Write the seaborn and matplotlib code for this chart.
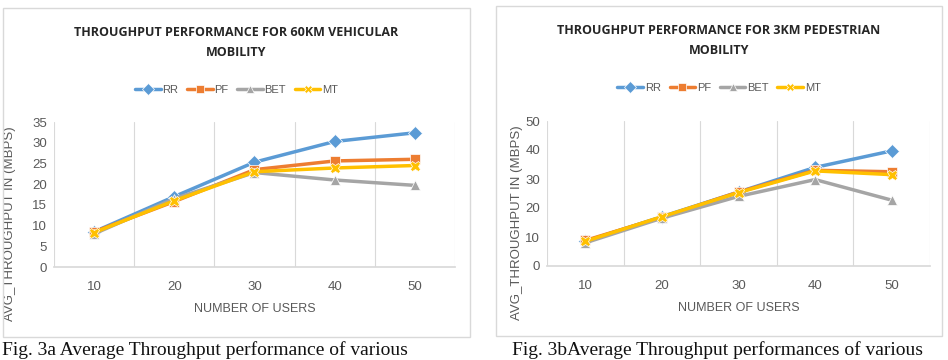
import matplotlib

matplotlib.use("Agg")
import matplotlib.pyplot as plt
import pandas as pd
import seaborn as sns
from matplotlib.patches import Rectangle

USERS = ["10", "20", "30", "40", "50"]
SCHEMES = ["RR", "PF", "BET", "MT"]

# 60 km/h vehicular
VEH_RR = [8.5, 17.0, 25.3, 30.3, 32.4]
VEH_PF = [8.5, 15.8, 23.5, 25.6, 26.0]
VEH_BET = [8.0, 16.5, 22.8, 21.0, 19.7]
VEH_MT = [8.3, 16.0, 23.0, 23.9, 24.5]

# 3 km/h pedestrian
PED_RR = [8.5, 17.0, 25.5, 34.0, 39.7]
PED_PF = [8.8, 16.8, 25.5, 33.0, 32.5]
PED_BET = [8.0, 16.5, 24.0, 29.8, 22.7]
PED_MT = [8.5, 17.0, 25.3, 32.8, 31.5]

COLORS = {"RR": "#5B9BD5", "PF": "#ED7D31", "BET": "#A5A5A5", "MT": "#FFC000"}
MARKERS = {"RR": "D", "PF": "s", "BET": "^", "MT": "X"}

W, H = 948, 360
TICK_GREY = "#595959"
SANS = ["Liberation Sans", "DejaVu Sans"]


def to_frame(series):
    rows = []
    for scheme, values in zip(SCHEMES, series):
        for i, v in enumerate(values):
            rows.append({"pos": i, "value": v, "scheme": scheme})
    return pd.DataFrame(rows)


def px(x0, y0, x1, y1):
    # pixel box (top-left origin) -> figure fraction rect
    return [x0 / W, 1 - y1 / H, (x1 - x0) / W, (y1 - y0) / H]


def draw_panel(fig, rect, series, ymax, ystep, title, title_y, legend_y, border, ylab_x):
    bx0, by0, bx1, by1 = border
    fig.patches.append(
        Rectangle((bx0 / W, 1 - by1 / H), (bx1 - bx0) / W, (by1 - by0) / H,
                  transform=fig.transFigure, fill=False, edgecolor="#D9D9D9", linewidth=1.0)
    )
    cx = (bx0 + bx1) / 2 / W
    ax = fig.add_axes(px(*rect))
    df = to_frame(series)
    sns.lineplot(
        data=df, x="pos", y="value", hue="scheme", style="scheme",
        hue_order=SCHEMES, style_order=SCHEMES, palette=COLORS, markers=MARKERS,
        dashes=False, linewidth=2.5, markersize=7.5, markeredgewidth=0.5, ax=ax,
    )
    ax.set_xlim(-0.5, 4.5)
    ax.set_ylim(0, ymax)
    ax.set_xticks(range(len(USERS)))
    ax.set_xticklabels(USERS)
    ax.set_xticks([i - 0.5 for i in range(len(USERS) + 1)], minor=True)
    ax.set_yticks(range(0, ymax + 1, ystep))
    ax.grid(False)
    ax.grid(which="minor", axis="x", color="#D9D9D9", linewidth=0.8)
    ax.tick_params(which="both", length=0)
    ax.tick_params(axis="x", pad=10)
    ax.tick_params(axis="y", pad=5)
    for lab in ax.get_xticklabels() + ax.get_yticklabels():
        lab.set_family(SANS)
        lab.set_fontsize(9.5)
        lab.set_color(TICK_GREY)
    for side in ["top", "left", "right"]:
        ax.spines[side].set_visible(False)
    ax.spines["bottom"].set_color("#D9D9D9")
    ax.set_xlabel("NUMBER OF USERS", family=SANS, fontsize=9, color=TICK_GREY, labelpad=7)
    ax.set_ylabel("AVG_THROUGHPUT IN (MBPS)", family=SANS, fontsize=9.5, color=TICK_GREY)
    ax.yaxis.set_label_coords(ylab_x, 0.3)

    fig.text(cx, 1 - title_y / H, title, ha="center", va="top", fontsize=9,
             fontweight="bold", color="#262626", family="Open Sans", linespacing=1.75)
    leg = ax.legend(loc="center", bbox_to_anchor=(cx, 1 - legend_y / H),
                    bbox_transform=fig.transFigure, ncol=4, frameon=False,
                    prop={"family": SANS, "size": 8}, labelcolor=TICK_GREY,
                    handlelength=2.3, columnspacing=0.8, handletextpad=0.15,
                    markerscale=0.8)
    return ax, leg


def main():
    sns.set_theme(style="white")
    fig = plt.figure(figsize=(W / 100, H / 100), dpi=100)

    draw_panel(fig, (54, 122, 455, 267), [VEH_RR, VEH_PF, VEH_BET, VEH_MT], 35, 5,
               "THROUGHPUT PERFORMANCE FOR 60KM VEHICULAR\nMOBILITY", 26, 90,
               (3, 8, 470, 337), -0.094)
    draw_panel(fig, (547, 121, 930, 266), [PED_RR, PED_PF, PED_BET, PED_MT], 50, 10,
               "THROUGHPUT PERFORMANCE FOR 3KM PEDESTRIAN\nMOBILITY", 24, 88,
               (496, 6, 942, 336), -0.062)

    fig.text(2 / W, 1 - 355 / H, "Fig. 3a Average Throughput performance of various",
             family="Liberation Serif", fontsize=14, va="baseline", color="#111111")
    fig.text(512 / W, 1 - 355 / H, "Fig. 3bAverage Throughput performances of various",
             family="Liberation Serif", fontsize=14, va="baseline", color="#111111")

    fig.savefig("out.png", dpi=100)
    plt.close(fig)


if __name__ == "__main__":
    main()
